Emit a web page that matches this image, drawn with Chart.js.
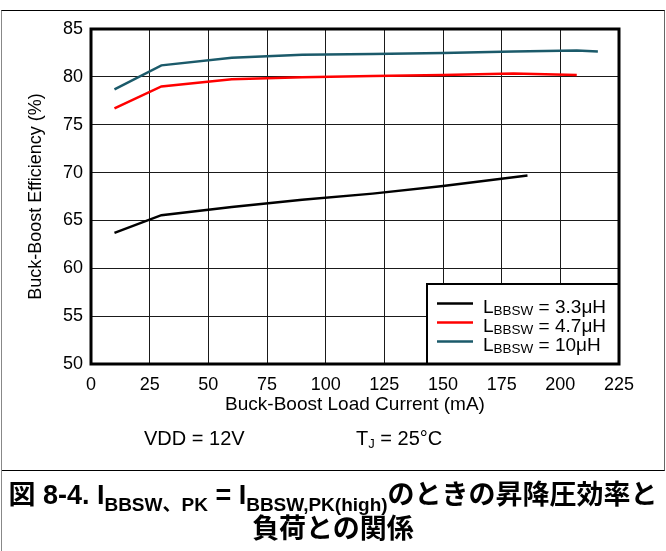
<!DOCTYPE html>
<html>
<head>
<meta charset="utf-8">
<script src="https://cdn.jsdelivr.net/npm/chart.js@4.4.0/dist/chart.umd.min.js"></script>
<style>
  html, body { margin: 0; padding: 0; background: #fff; }
  #wrap { position: relative; width: 666px; height: 551px; overflow: hidden;
          font-family: "Liberation Sans", Arial, sans-serif; color: #000; }
  #wrap canvas { position: absolute; left: 0; top: 0; }
  .frame { position: absolute; left: 1px; top: 10px; width: 662px; height: 459px;
           border-top: 1px solid #000; border-right: 1px solid #666;
           border-bottom: 1px solid #000; border-left: 1px solid #888; }
  .leftrule { position: absolute; left: 1px; top: 470px; height: 81px; border-left: 1px solid #888; }
  .cond { position: absolute; top: 426px; font-size: 20px; line-height: 24px; white-space: nowrap; }
  .cond sub { font-size: 13px; vertical-align: -0.2em; line-height: 0; }
  .cap { position: absolute; left: 0; width: 666px; text-align: center; font-weight: bold;
         font-size: 27px; line-height: 33px; white-space: nowrap;
         font-family: "Liberation Sans", "Noto Sans CJK JP", sans-serif; }
  .cap sub { font-size: 19px; vertical-align: -0.35em; line-height: 0; }
</style>
</head>
<body>
<div id="wrap">
  <div class="frame"></div>
  <div class="leftrule"></div>
  <canvas id="chart" width="666" height="551"></canvas>
  <div class="cond" style="left:144px">VDD = 12V</div>
  <div class="cond" style="left:356px">T<sub>J</sub> = 25°C</div>
  <div class="cap" style="top:479px">図 8-4. I<sub>BBSW、PK</sub> = I<sub>BBSW,PK(high)</sub>のときの昇降圧効率と</div>
  <div class="cap" style="top:513px">負荷との関係</div>
</div>
<script>
// Buck-boost efficiency (%) versus load current (mA) for three inductor values
const current33 = [10, 30, 60, 90, 120, 150, 186];
const efficiency33 = [63.7, 65.55, 66.4, 67.15, 67.8, 68.6, 69.7];

const current47 = [10, 30, 60, 90, 120, 150, 180, 207];
const efficiency47 = [76.7, 79.0, 79.75, 79.95, 80.1, 80.2, 80.35, 80.2];

const current10 = [10, 30, 60, 90, 120, 150, 180, 207, 216];
const efficiency10 = [78.7, 81.2, 82.0, 82.3, 82.4, 82.5, 82.65, 82.75, 82.65];

const inductorLabels = ['3.3\u03BCH', '4.7\u03BCH', '10\u03BCH'];
const seriesColors = ['#000000', '#ff0000', '#1b5a6a'];

const xTickValues = [0, 25, 50, 75, 100, 125, 150, 175, 200, 225];
const yTickValues = [50, 55, 60, 65, 70, 75, 80, 85];

const FONT = '"Liberation Sans", Arial, sans-serif';

function toPoints(xs, ys) {
  return xs.map((x, i) => ({ x: x, y: ys[i] }));
}

// Thick plot frame plus the boxed legend in the lower right corner
const frameAndLegend = {
  id: 'frameAndLegend',
  afterDatasetsDraw(chart) {
    const { ctx, chartArea: a } = chart;
    ctx.save();

    const boxL = a.right - 192, boxT = a.bottom - 80;
    ctx.fillStyle = '#fff';
    ctx.fillRect(boxL, boxT, a.right - boxL, a.bottom - boxT);
    ctx.strokeStyle = '#000';
    ctx.lineWidth = 2;
    ctx.strokeRect(boxL, boxT, a.right - boxL, a.bottom - boxT);

    const baselines = [29, 48, 67];
    chart.data.datasets.forEach((ds, i) => {
      const base = boxT + baselines[i];
      ctx.strokeStyle = ds.borderColor;
      ctx.lineWidth = 2.5;
      ctx.beginPath();
      ctx.moveTo(boxL + 10, base - 9.5);
      ctx.lineTo(boxL + 46, base - 9.5);
      ctx.stroke();

      ctx.fillStyle = '#000';
      ctx.textBaseline = 'alphabetic';
      ctx.textAlign = 'left';
      let x = boxL + 56;
      ctx.font = '19px ' + FONT;
      ctx.fillText('L', x, base);
      x += ctx.measureText('L').width;
      ctx.font = '13.5px ' + FONT;
      ctx.fillText('BBSW', x, base + 1.5);
      x += ctx.measureText('BBSW').width;
      ctx.font = '19px ' + FONT;
      ctx.fillText(' = ' + inductorLabels[i], x, base);
    });

    ctx.strokeStyle = '#000';
    ctx.lineWidth = 3;
    ctx.strokeRect(a.left, a.top, a.right - a.left, a.bottom - a.top);
    ctx.restore();
  }
};

const lineStyle = { borderWidth: 2.5, pointRadius: 0, tension: 0, fill: false };

new Chart(document.getElementById('chart'), {
  type: 'line',
  data: {
    datasets: [
      Object.assign({ label: inductorLabels[0], data: toPoints(current33, efficiency33),
        borderColor: seriesColors[0] }, lineStyle),
      Object.assign({ label: inductorLabels[1], data: toPoints(current47, efficiency47),
        borderColor: seriesColors[1] }, lineStyle),
      Object.assign({ label: inductorLabels[2], data: toPoints(current10, efficiency10),
        borderColor: seriesColors[2] }, lineStyle)
    ]
  },
  options: {
    responsive: false,
    animation: false,
    devicePixelRatio: 1,
    layout: { padding: { left: 0, top: 29, right: 47, bottom: 127 } },
    plugins: { legend: { display: false }, tooltip: { enabled: false } },
    scales: {
      x: {
        type: 'linear', min: 0, max: 225,
        afterBuildTicks: s => { s.ticks = xTickValues.map(v => ({ value: v })); },
        afterFit: s => { s.height = 60; s.paddingLeft = 0; s.paddingRight = 0; },
        grid: { color: '#1a1a1a', lineWidth: 1, drawTicks: false },
        border: { display: false },
        ticks: { padding: 10, color: '#000', maxRotation: 0, autoSkip: false,
                 font: { family: FONT, size: 18 } },
        title: { display: true, text: 'Buck-Boost Load Current (mA)', color: '#000',
                 font: { family: FONT, size: 19 }, padding: { top: 0, bottom: 8 } }
      },
      y: {
        type: 'linear', min: 50, max: 85,
        afterBuildTicks: s => { s.ticks = yTickValues.map(v => ({ value: v })); },
        afterFit: s => { s.width = 91; s.paddingTop = 0; s.paddingBottom = 0; },
        grid: { color: '#1a1a1a', lineWidth: 1, drawTicks: false },
        border: { display: false },
        ticks: { padding: 8, color: '#000', font: { family: FONT, size: 18 } },
        title: { display: true, text: 'Buck-Boost Efficiency (%)', color: '#000',
                 font: { family: FONT, size: 18 }, padding: { top: 25, bottom: 0 } }
      }
    }
  },
  plugins: [frameAndLegend]
});
</script>
</body>
</html>
